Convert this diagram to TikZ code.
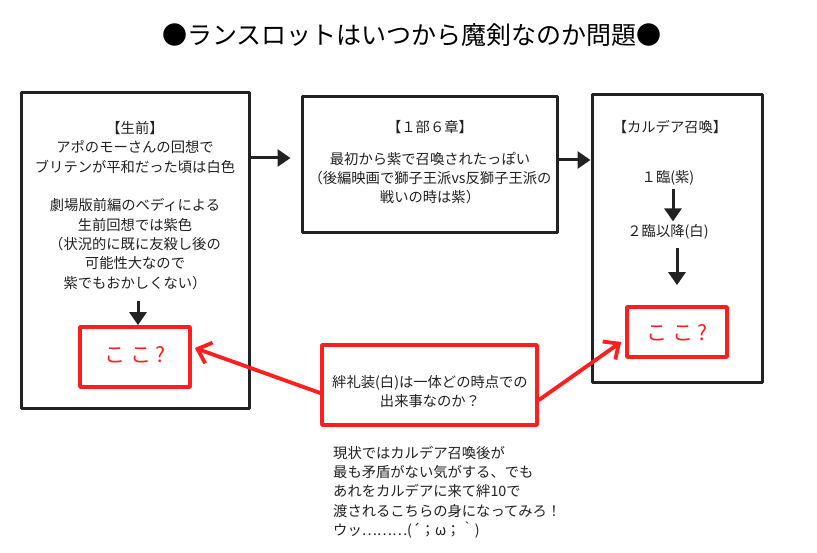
\documentclass[tikz,border=0pt]{standalone}
\usepackage{fontspec}
\setmainfont{Noto Sans CJK JP}
\usetikzlibrary{arrows.meta}
\definecolor{ink}{HTML}{222222}
\definecolor{pen}{HTML}{FF1E1E}
\begin{document}
\begin{tikzpicture}[x=1pt,y=-1pt,
  sketchbox/.style={draw=ink,line width=3pt,line cap=round,line join=round,minimum width=#1},
  redbox/.style={draw=pen,line width=3.8pt,line cap=round,line join=round},
  txt/.style={font=\fontsize{14.3}{19.3}\selectfont,align=center,text=ink,inner sep=0pt},
  redtxt/.style={font=\fontsize{21}{21}\selectfont,text=pen,inner sep=0pt},
  blkarrow/.style={draw=ink,line width=3pt,-{Triangle[length=13pt,width=17pt]}},
  redarrow/.style={draw=pen,line width=3.8pt,line cap=round,-{Straight Barb[length=12pt,width=22pt,line width=3.8pt]}}]
\useasboundingbox[fill=white] (0,0) rectangle (817,553);

\node[font=\fontsize{25}{25}\selectfont,text=black,inner sep=0pt] (title) at (412,35) {●ランスロットはいつから魔剣なのか問題●};

% boxes
\node[sketchbox=228pt,minimum height=315pt] (lbox) at (135,250.5) {};
\node[sketchbox=255pt,minimum height=136pt] (mbox) at (429.5,165) {};
\node[sketchbox=170pt,minimum height=288pt] (rbox) at (677,239) {};

% left box text
\node[txt] (ltxt) at (135,205.5) {【生前】\\アポのモーさんの回想で\\ブリテンが平和だった頃は白色\\[19.3pt]劇場版前編のベディによる\\生前回想では紫色\\（状況的に既に友殺し後の\\可能性大なので\\紫でもおかしくない）};

% middle box text
\node[txt] (mhead) at (430,127) {【１部６章】};
\node[txt] (mtxt) at (430,178) {最初から紫で召喚されたっぽい\\（後編映画で獅子王派vs反獅子王派の\\戦いの時は紫）};

% right box text
\node[txt] (rhead) at (670,127) {【カルデア召喚】};
\node[txt] (r1) at (668,178) {１臨(紫)};
\node[txt] (r2) at (668,232) {２臨以降(白)};

% red boxes
\node[redbox,minimum width=110pt,minimum height=60pt] (lred) at (135,357) {};
\node[redtxt] (lq) at (135,355) {こ こ ?};
\node[redbox,minimum width=100pt,minimum height=50pt] (rred) at (677,332) {};
\node[redtxt] (rq) at (677,333) {こ こ ?};
\node[redbox,minimum width=215pt,minimum height=80pt] (mred) at (429.5,385) {};
\node[txt] (mredtxt) at (430,391.5) {絆礼装(白)は一体どの時点での\\出来事なのか？};

% bottom comment
\node[txt,align=left,anchor=north west] (note) at (333,446) {現状ではカルデア召喚後が\\最も矛盾がない気がする、でも\\あれをカルデアに来て絆10で\\渡されるこちらの身になってみろ！\\ウッ………(´；ω；｀)};

% arrow end points
\coordinate (a1end) at ([yshift=7pt,xshift=-10pt]mbox.west);
\coordinate (a2start) at ([yshift=5pt]mbox.east);

% black arrows
\draw[blkarrow] (lbox.east |- a1end) -- (a1end);
\draw[blkarrow] (a2start) -- (rbox.west |- a2start);
\draw[blkarrow] ([xshift=3pt,yshift=24pt]lred.north) -- ([xshift=3pt]lred.north);
\draw[blkarrow] ([xshift=5pt,yshift=-3pt]r1.south) -- ([xshift=5pt,yshift=3pt]r2.north);
\draw[blkarrow] ([xshift=9pt,yshift=-8pt]r2.south) -- ([yshift=20pt]rred.north);

% red arrows
\draw[redarrow] ([yshift=-8pt]mred.west) -- ([yshift=9pt,xshift=3pt]lred.east);
\draw[redarrow] ([yshift=-15pt]mred.east) -- ([yshift=-10pt,xshift=-4pt]rred.west);
\end{tikzpicture}
\end{document}
